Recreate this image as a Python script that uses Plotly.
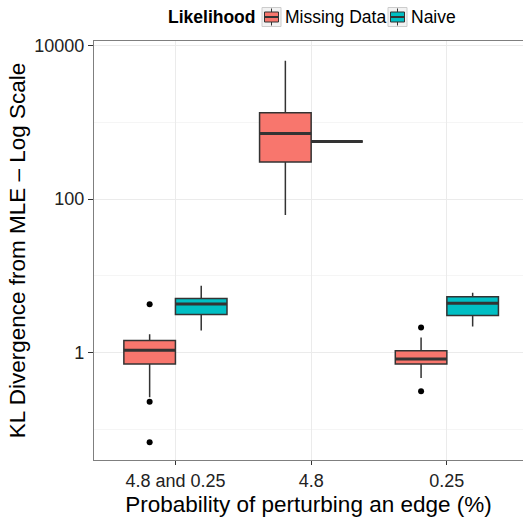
import plotly.graph_objects as go

categories = ["4.8 and 0.25", "4.8", "0.25"]
series_names = ["Missing Data", "Naive"]
colors = ["#F8766D", "#00BFC4"]

# Box statistics (per category)
md_lower = [0.262, 61.8, 0.468]
md_q1 = [0.713, 304, 0.713]
md_median = [1.075, 716, 0.828]
md_q3 = [1.434, 1334, 1.06]
md_upper = [1.738, 6353, 1.57]
md_outliers = [[4.28, 0.2297, 0.0679], [], [2.12, 0.314]]

nv_lower = [1.94, 564, 2.18]
nv_q1 = [3.13, 564, 3.04]
nv_median = [4.31, 564, 4.41]
nv_q3 = [5.06, 564, 5.32]
nv_upper = [7.41, 564, 6.0]
nv_outliers = [[], [], []]

y_tickvals = [1, 100, 10000]
y_ticktext = ["1", "100", "10000"]
y_minor = [0.1, 10, 1000]

dodge = 0.19
box_width = 0.38
FONT = "Liberation Sans, Arial, sans-serif"

W, H = 523, 527
ML, MR, MT, MB = 94, 0, 41, 67
PW, PH = W - ML - MR, H - MT - MB


def px(x):
    return (x - ML) / PW


def py(y):
    return (H - MB - y) / PH


stats = [
    (md_lower, md_q1, md_median, md_q3, md_upper, md_outliers),
    (nv_lower, nv_q1, nv_median, nv_q3, nv_upper, nv_outliers),
]

fig = go.Figure()
for k, (name, col, st) in enumerate(zip(series_names, colors, stats)):
    lo, q1, med, q3, up, outs = st
    off = -dodge if k == 0 else dodge
    xs = [i + off for i in range(len(categories))]
    fig.add_trace(go.Box(
        name=name, x=xs, q1=q1, median=med, q3=q3,
        lowerfence=lo, upperfence=up, width=box_width,
        fillcolor=col, line=dict(color="#333333", width=1.5),
        whiskerwidth=0, boxpoints=False, showlegend=False,
    ))
    # thicker median lines (ggplot style)
    mx, my = [], []
    for x0, m in zip(xs, med):
        mx += [x0 - box_width / 2, x0 + box_width / 2, None]
        my += [m, m, None]
    fig.add_trace(go.Scatter(
        x=mx, y=my, mode="lines", showlegend=False, hoverinfo="skip",
        line=dict(color="#333333", width=3),
    ))
    ox, oy = [], []
    for i, vals in enumerate(outs):
        for v in vals:
            ox.append(i + off)
            oy.append(v)
    if ox:
        fig.add_trace(go.Scatter(
            x=ox, y=oy, mode="markers", showlegend=False,
            marker=dict(color="black", size=6),
        ))

# ggplot-like legend drawn at the top
shapes = []
annotations = [dict(
    text="<b>Likelihood</b>", xref="paper", yref="paper", x=px(166), y=py(17),
    xanchor="left", yanchor="middle", showarrow=False,
    font=dict(family=FONT, size=17.5, color="black"),
)]
key_left = [262, 388]
text_left = [283, 409]
for kl, tl, name, col in zip(key_left, text_left, series_names, colors):
    shapes.append(dict(type="rect", xref="paper", yref="paper",
                       x0=px(kl), x1=px(kl + 19), y0=py(26.5), y1=py(7.5),
                       fillcolor="#f2f2f2", line=dict(color="#cccccc", width=1)))
    shapes.append(dict(type="line", xref="paper", yref="paper",
                       x0=px(kl + 9.5), x1=px(kl + 9.5), y0=py(25.5), y1=py(8.5),
                       line=dict(color="#333333", width=1)))
    shapes.append(dict(type="rect", xref="paper", yref="paper",
                       x0=px(kl + 2.5), x1=px(kl + 16.5), y0=py(22), y1=py(12),
                       fillcolor=col, line=dict(color="#333333", width=1)))
    shapes.append(dict(type="line", xref="paper", yref="paper",
                       x0=px(kl + 2.5), x1=px(kl + 16.5), y0=py(17), y1=py(17),
                       line=dict(color="#333333", width=2)))
    annotations.append(dict(
        text=name, xref="paper", yref="paper", x=px(tl), y=py(17),
        xanchor="left", yanchor="middle", showarrow=False,
        font=dict(family=FONT, size=17.5, color="black"),
    ))

fig.update_layout(
    width=W, height=H,
    margin=dict(l=ML, r=MR, t=MT, b=MB, autoexpand=False),
    paper_bgcolor="white", plot_bgcolor="white",
    font=dict(family=FONT, size=18, color="#222222"),
    boxmode="overlay", showlegend=False,
    shapes=shapes, annotations=annotations,
)

fig.update_xaxes(
    range=[-0.6, 2.561], tickvals=list(range(len(categories))), ticktext=categories,
    showgrid=True, gridcolor="#ebebeb", gridwidth=1.2, zeroline=False,
    showline=True, linecolor="#7f7f7f", linewidth=1.2, mirror=True,
    ticks="outside", ticklen=4, tickcolor="#333333", automargin=False,
    tickfont=dict(size=18, color="#222222"),
    title=dict(text="Probability of perturbing an edge (%)", font=dict(size=22.5, color="black"), standoff=6),
)
fig.update_yaxes(
    type="log", range=[-1.399, 4.059], tickvals=y_tickvals, ticktext=y_ticktext,
    showgrid=True, gridcolor="#ebebeb", gridwidth=1.2, zeroline=False,
    showline=True, linecolor="#7f7f7f", linewidth=1.2,
    ticks="outside", ticklen=5, tickcolor="#333333", automargin=False,
    tickfont=dict(size=18, color="#222222"),
    minor=dict(tickvals=y_minor, showgrid=True, gridcolor="#f5f5f5", ticks=""),
    title=dict(text="KL Divergence from MLE – Log Scale", font=dict(size=22.5, color="black"), standoff=2),
)

fig.write_html(
    "out.html",
    config={"displayModeBar": False},
    post_script="document.body.style.margin='0';document.body.style.overflow='hidden';",
)
